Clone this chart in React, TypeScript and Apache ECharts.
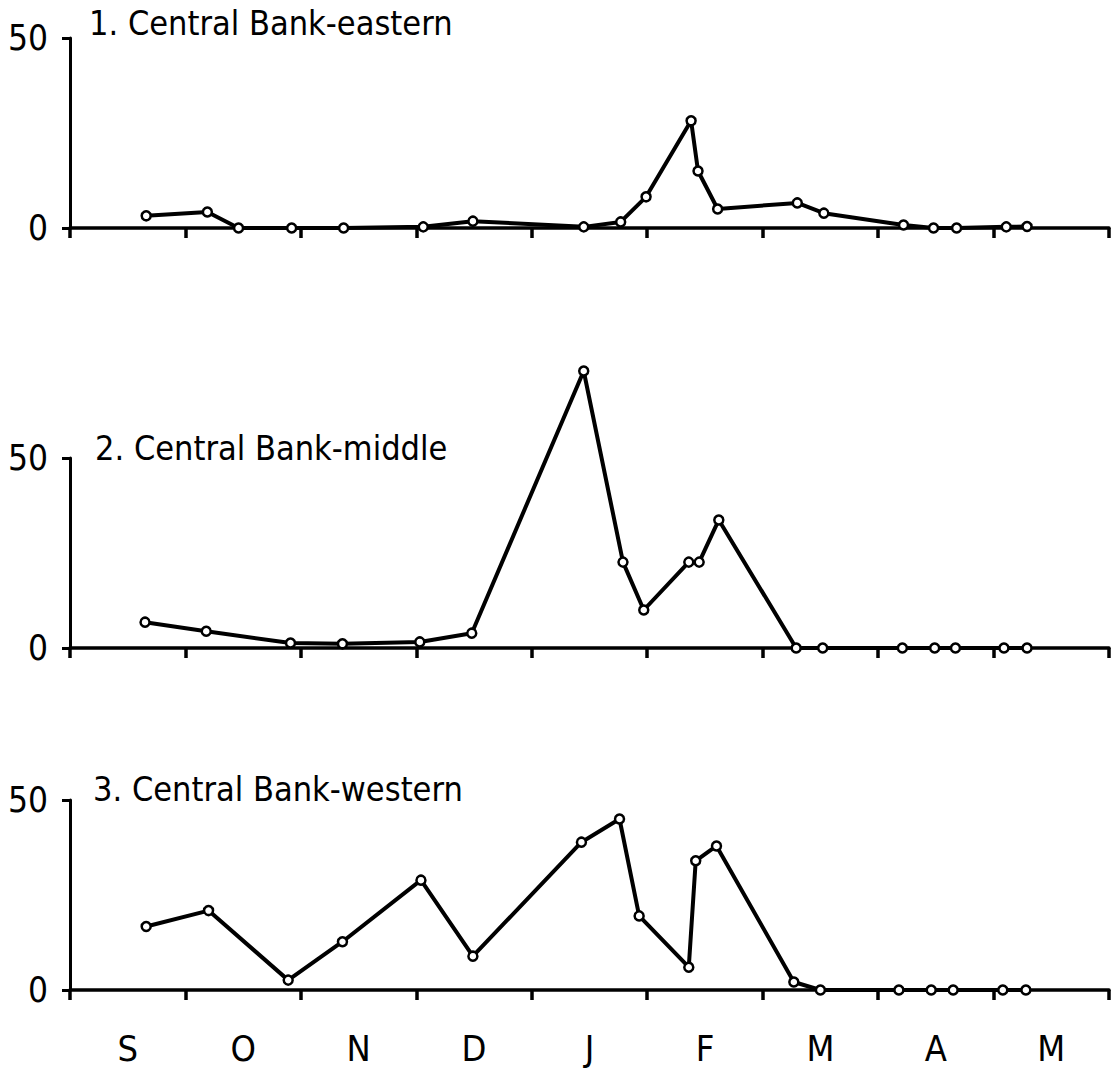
import React, { useEffect, useRef } from "react";
import * as echarts from "echarts";

const monthLabels = ["S", "O", "N", "D", "J", "F", "M", "A", "M"];
const yTicks = [0, 50];

const panelTitles = [
  "1. Central Bank-eastern",
  "2. Central Bank-middle",
  "3. Central Bank-western",
];

// x in months since 1 September (0 = start of S, 9 = end of M)
const eastDates = [0.66, 1.19, 1.46, 1.92, 2.37, 3.06, 3.49, 4.45, 4.77, 4.99, 5.38, 5.44, 5.61, 6.3, 6.53, 7.22, 7.48, 7.68, 8.11, 8.29];
const eastValues = [3.2, 4.2, 0, 0, 0, 0.3, 1.8, 0.3, 1.6, 8.2, 28.2, 15, 5, 6.6, 3.9, 0.8, 0, 0, 0.3, 0.4];

const middleDates = [0.65, 1.18, 1.91, 2.36, 3.03, 3.48, 4.45, 4.79, 4.97, 5.36, 5.45, 5.62, 6.29, 6.52, 7.21, 7.49, 7.67, 8.09, 8.29];
const middleValues = [6.8, 4.4, 1.3, 1.1, 1.6, 3.9, 72.9, 22.6, 10, 22.6, 22.6, 33.7, 0, 0, 0, 0, 0, 0, 0];

const westDates = [0.66, 1.2, 1.89, 2.36, 3.04, 3.49, 4.43, 4.76, 4.93, 5.36, 5.42, 5.6, 6.27, 6.5, 7.18, 7.46, 7.65, 8.08, 8.28];
const westValues = [16.7, 20.9, 2.6, 12.7, 28.9, 8.9, 38.9, 45, 19.5, 6, 34, 37.9, 2.1, 0, 0, 0, 0, 0, 0];

const FONT = "'DejaVu Sans Condensed', 'Liberation Sans Narrow', 'DejaVu Sans', sans-serif";

export default function App() {
  const ref = useRef<HTMLDivElement>(null);

  useEffect(() => {
    if (!ref.current) return;
    const chart = echarts.init(ref.current, null, { renderer: "svg" });

    const gridTops = [38, 458, 800];
    const gridHeight = 190;
    const seriesData = [
      eastDates.map((d, i) => [d, eastValues[i]]),
      middleDates.map((d, i) => [d, middleValues[i]]),
      westDates.map((d, i) => [d, westValues[i]]),
    ];
    const titleTops = [1, 426, 767];
    const titleLefts = [84, 90, 88];

    const xAxes: any[] = gridTops.map((_, i) => ({
      type: "value",
      gridIndex: i,
      min: 0,
      max: 9,
      interval: 1,
      axisLine: { show: true, onZero: false, lineStyle: { color: "#000", width: 3.5 } },
      axisTick: { show: true, length: 10, lineStyle: { color: "#000", width: 3.5 } },
      axisLabel: { show: false },
      splitLine: { show: false },
    }));
    xAxes.push({
      type: "category",
      gridIndex: 2,
      data: monthLabels,
      boundaryGap: true,
      position: "bottom",
      axisLine: { show: false },
      axisTick: { show: false },
      axisLabel: {
        show: true,
        margin: 40,
        color: "#000",
        fontSize: 36,
        fontFamily: FONT,
        interval: 0,
      },
      splitLine: { show: false },
    });

    const yAxes = gridTops.map((_, i) => ({
      type: "value",
      gridIndex: i,
      min: yTicks[0],
      max: yTicks[1],
      interval: 50,
      axisLine: { show: true, lineStyle: { color: "#000", width: 3 } },
      axisTick: { show: true, length: 8, lineStyle: { color: "#000", width: 3 } },
      axisLabel: {
        show: true,
        margin: 22,
        color: "#000",
        fontSize: 35,
        fontFamily: FONT,
      },
      splitLine: { show: false },
    }));

    chart.setOption({
      animation: false,
      backgroundColor: "#fff",
      title: panelTitles.map((t, i) => ({
        text: t,
        left: titleLefts[i],
        top: titleTops[i],
        textStyle: { color: "#000", fontSize: 34, fontWeight: "normal", fontFamily: FONT },
      })),
      grid: gridTops.map((top) => ({ left: 70, right: 5, top, height: gridHeight })),
      xAxis: xAxes,
      yAxis: yAxes,
      series: seriesData.map((data, i) => ({
        type: "line",
        xAxisIndex: i,
        yAxisIndex: i,
        data,
        clip: false,
        symbol: "circle",
        symbolSize: 9,
        lineStyle: { color: "#000", width: 4 },
        itemStyle: { color: "#fff", borderColor: "#000", borderWidth: 2.5 },
      })),
    });

    return () => chart.dispose();
  }, []);

  return (
    <div
      ref={ref}
      style={{ position: "fixed", left: 0, top: 0, width: 1114, height: 1072 }}
    />
  );
}
